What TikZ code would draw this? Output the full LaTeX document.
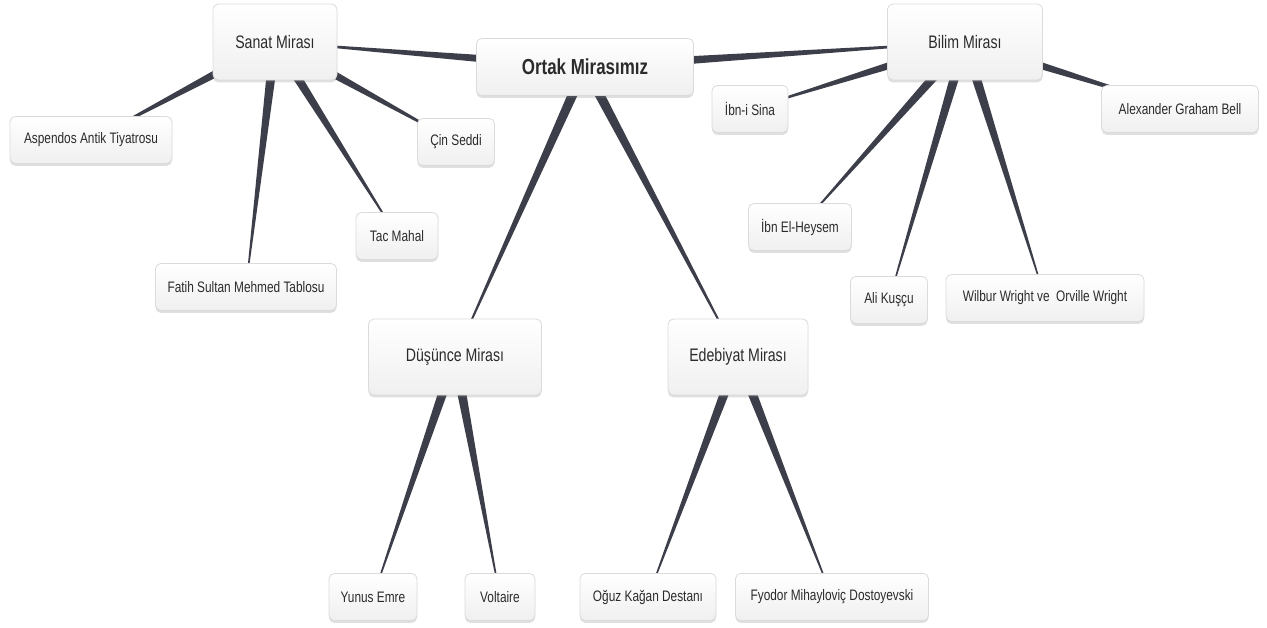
\documentclass[tikz,border=0pt]{standalone}
\usepackage{fontspec}
\setmainfont{Liberation Sans}[FakeStretch=0.78]
\usetikzlibrary{calc,backgrounds,shadows}

\definecolor{limbgray}{HTML}{3C3E4A}
\definecolor{textgray}{HTML}{2B2B2B}

\tikzset{
  mapbox/.style={draw=gray!28, line width=0.6pt, rounded corners=4pt,
    top color=white, bottom color=gray!12, text=textgray, inner xsep=2pt,
    drop shadow={opacity=0.25, shadow xshift=0pt, shadow yshift=-1.8pt}},
  hub/.style={mapbox, minimum height=42.75pt, font=\fontsize{16.3}{19}\selectfont\bfseries},
  branch/.style={mapbox, minimum height=57pt, font=\fontsize{13.6}{16}\selectfont},
  leaf/.style={mapbox, minimum height=35.25pt, font=\fontsize{11.4}{13}\selectfont}
}

% tapered connector: wide at the parent, thin at the child
\newcommand{\limb}[2]{%
  \fill[limbgray] ($(#1)!3.9pt!90:(#2)$) -- ($(#2)!0.25pt!-90:(#1)$)
    -- ($(#2)!0.25pt!90:(#1)$) -- ($(#1)!3.9pt!-90:(#2)$) -- cycle;}

\begin{document}
\begin{tikzpicture}[x=0.75pt, y=-0.75pt]
    \useasboundingbox (0,0) rectangle (1267,628);

    % centre
    \node[hub, minimum width=162.75pt] (ortak) at (585,67) {Ortak Mirasımız};

    % sanat
    \node[branch, minimum width=93pt] (sanat) at (275,42) {Sanat Mirası};
    \node[leaf, minimum width=121.5pt] (aspendos) at (91,140) {Aspendos Antik Tiyatrosu};
    \node[leaf, minimum width=57.75pt] (cin) at (456,142) {Çin Seddi};
    \node[leaf, minimum width=61.5pt] (tac) at (397,236) {Tac Mahal};
    \node[leaf, minimum width=135.75pt] (fatih) at (246,287) {Fatih Sultan Mehmed Tablosu};

    % bilim
    \node[branch, minimum width=116.25pt] (bilim) at (965,42) {Bilim Mirası};
    \node[leaf, minimum width=57pt] (ibnisina) at (750,109) {İbn-i Sina};
    \node[leaf, minimum width=77.25pt] (heysem) at (800,227) {İbn El-Heysem};
    \node[leaf, minimum width=57.75pt] (alikuscu) at (889,300) {Ali Kuşçu};
    \node[leaf, minimum width=148.5pt] (wright) at (1045,298) {Wilbur Wright ve~ Orville Wright};
    \node[leaf, minimum width=117.75pt] (bell) at (1180,109) {Alexander Graham Bell};

    % dusunce
    \node[branch, minimum width=129.75pt] (dusunce) at (455,357) {Düşünce Mirası};
    \node[leaf, minimum width=66pt] (yunus) at (373,597) {Yunus Emre};
    \node[leaf, minimum width=52.5pt] (voltaire) at (500,597) {Voltaire};

    % edebiyat
    \node[branch, minimum width=105pt] (edebiyat) at (738,357) {Edebiyat Mirası};
    \node[leaf, minimum width=102pt] (oguz) at (648,597) {Oğuz Kağan Destanı};
    \node[leaf, minimum width=144.75pt] (fyodor) at (832,597) {Fyodor Mihayloviç Dostoyevski};

    \begin{scope}[on background layer]
        \fill[white] (0,0) rectangle (1267,628);
        \foreach \from/\to in {ortak/sanat, ortak/bilim, ortak/dusunce, ortak/edebiyat,
            sanat/aspendos, sanat/fatih, sanat/tac, sanat/cin,
            bilim/ibnisina, bilim/heysem, bilim/alikuscu, bilim/wright, bilim/bell,
            dusunce/yunus, dusunce/voltaire, edebiyat/oguz, edebiyat/fyodor}
            \limb{\from}{\to};
    \end{scope}
\end{tikzpicture}
\end{document}
